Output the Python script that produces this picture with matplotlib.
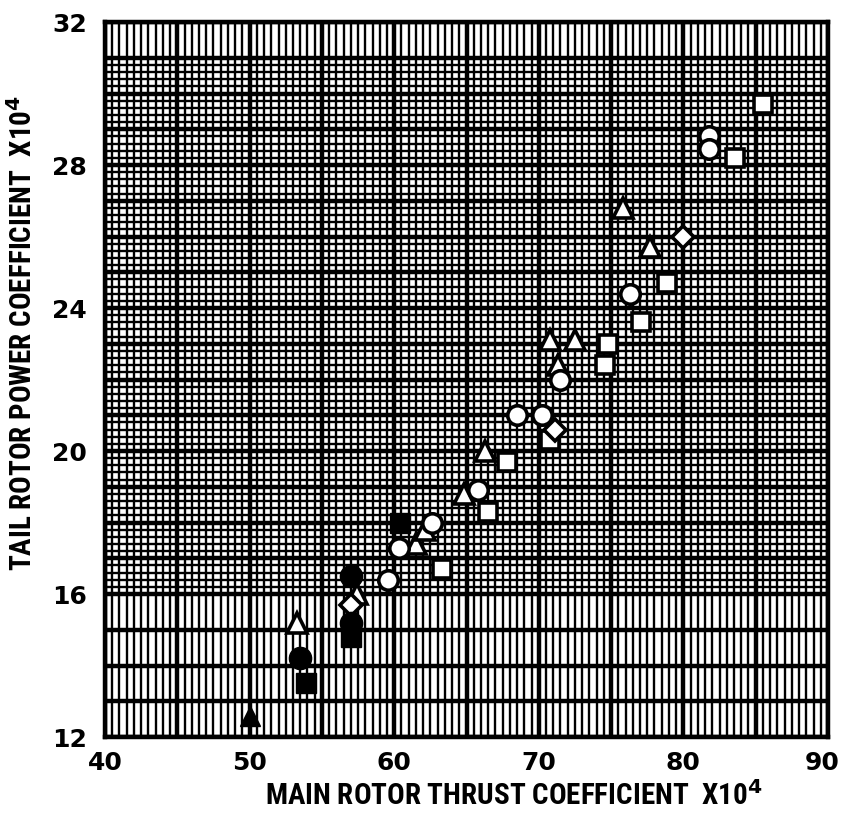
import numpy as np
import matplotlib
matplotlib.use("Agg")
import matplotlib.pyplot as plt
import matplotlib.transforms as mtransforms

# thrust coefficient (x1e4) vs tail rotor power coefficient (x1e4), by marker group
tri_open_x = [53.3, 57.4, 61.5, 62.1, 64.8, 66.3, 70.8, 71.3, 72.5, 75.8, 77.7]
tri_open_y = [15.2, 16.0, 17.4, 17.8, 18.8, 20.0, 23.1, 22.4, 23.1, 26.8, 25.7]

circ_open_x = [59.6, 60.3, 62.6, 65.8, 68.5, 70.2, 71.5, 76.3, 81.8, 81.8]
circ_open_y = [16.4, 17.3, 18.0, 18.9, 21.0, 21.0, 22.0, 24.4, 28.8, 28.45]

sq_open_x = [63.3, 66.5, 67.8, 70.8, 74.6, 74.8, 77.1, 78.9, 83.6, 85.5]
sq_open_y = [16.7, 18.3, 19.7, 20.3, 22.4, 23.0, 23.6, 24.7, 28.2, 29.7]

dia_open_x = [57.0, 71.1, 80.0]
dia_open_y = [15.7, 20.6, 26.0]

circ_fill_x = [53.5, 57.0, 57.0]
circ_fill_y = [14.2, 15.2, 16.5]

sq_fill_x = [53.9, 57.0, 60.4]
sq_fill_y = [13.5, 14.8, 18.0]

tri_fill_x = [50.0]
tri_fill_y = [12.6]

x_ticks = [40, 50, 60, 70, 80, 90]
y_ticks = [12, 16, 20, 24, 28, 32]

plt.rcParams["mathtext.fontset"] = "dejavusans"

fig = plt.figure(figsize=(8.44, 8.13), dpi=100)
ax = fig.add_axes([105/844, 76/813, 723/844, 715/813])
ax.set_xlim(40, 90)
ax.set_ylim(12, 32)

# graph paper: fine rulings every 0.5 x 0.2, heavy every 5 x 1
ax.vlines(np.arange(40, 90.01, 0.5), 12, 32, color="black", lw=1.7, zorder=1)
ax.hlines(np.arange(16, 31.01, 0.2), 40, 90, color="black", lw=1.7, zorder=1)
ax.vlines(np.arange(40, 90.01, 5), 12, 32, color="black", lw=3.2, zorder=1)
ax.hlines(np.arange(12, 32.01, 1), 40, 90, color="black", lw=3.2, zorder=1)

ms = 14
mew = 2.6
common = dict(ls="none", color="black", zorder=3, clip_on=False)
ax.plot(tri_open_x, tri_open_y, marker="^", ms=ms, mew=mew, mfc="white", **common)
ax.plot(circ_open_x, circ_open_y, marker="o", ms=ms, mew=mew, mfc="white", **common)
ax.plot(sq_open_x, sq_open_y, marker="s", ms=ms - 1, mew=mew, mfc="white", **common)
ax.plot(dia_open_x, dia_open_y, marker="D", ms=ms - 3, mew=mew, mfc="white", **common)
ax.plot(circ_fill_x, circ_fill_y, marker="o", ms=ms + 2, **common)
ax.plot(sq_fill_x, sq_fill_y, marker="s", ms=ms, **common)
ax.plot(tri_fill_x, tri_fill_y, marker="^", ms=ms, **common)

for s in ax.spines.values():
    s.set_linewidth(3.2)

ax.set_xticks(x_ticks)
ax.set_yticks(y_ticks)
ax.tick_params(axis="x", length=0, labelsize=18, pad=10)
ax.tick_params(axis="y", length=0, labelsize=18, pad=13)
for lab in ax.get_xticklabels() + ax.get_yticklabels():
    lab.set_fontweight("bold")
# keep the last x label inside the figure
last = ax.get_xticklabels()[-1]
last.set_transform(last.get_transform() +
                   mtransforms.ScaledTranslation(-6/100, 0, fig.dpi_scale_trans))

lbl = dict(family=["Roboto Condensed", "DejaVu Sans"], fontstretch="condensed",
           fontweight="bold", fontsize=21)
ax.set_xlabel("MAIN ROTOR THRUST COEFFICIENT  X10$^\\mathbf{4}$", **lbl)
ax.xaxis.set_label_coords(0.566, -0.062)
ax.set_ylabel("TAIL ROTOR POWER COEFFICIENT  X10$^\\mathbf{4}$", **lbl)
ax.yaxis.set_label_coords(-0.092, 0.565)

fig.savefig("out.png", dpi=100)
